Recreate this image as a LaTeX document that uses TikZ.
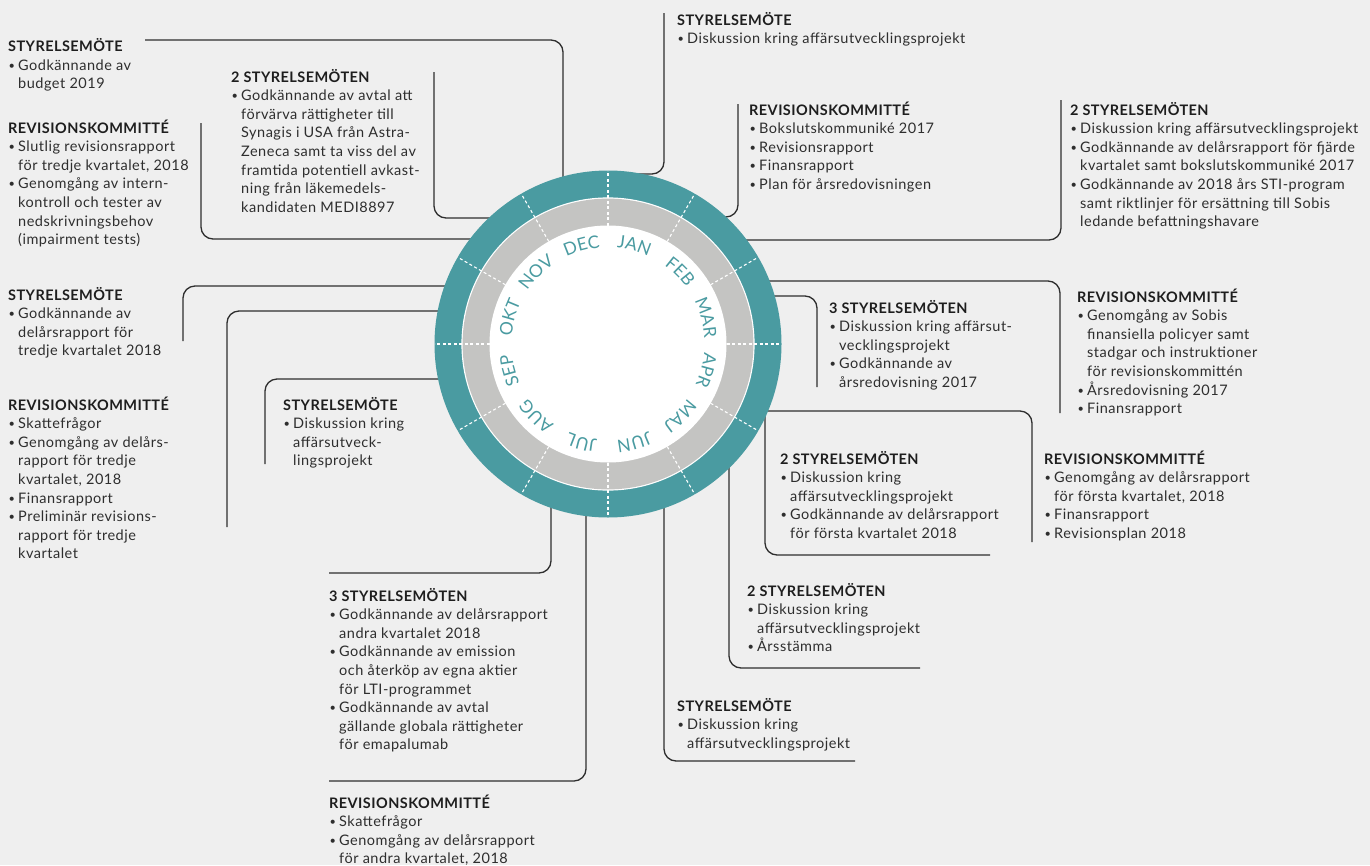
\documentclass[tikz,border=0pt]{standalone}
\usepackage{fontspec}
\setmainfont{Lato}[LetterSpace=3.5]
\newfontfamily\hdfont{Lato}[LetterSpace=3]
\newfontfamily\monthfont{Lato}[LetterSpace=8]
\usetikzlibrary{decorations.text}
\definecolor{bg}{HTML}{EFEFEF}
\definecolor{teal1}{HTML}{4A9BA1}
\definecolor{ring}{HTML}{C4C4C2}
\definecolor{ln}{HTML}{2E2E2E}
\definecolor{txt}{HTML}{2E2E2E}
\definecolor{hdc}{HTML}{1E1E1E}
\newcommand{\hd}[1]{{\hdfont\bfseries\color{hdc}#1}}
\newcommand{\bl}{\makebox[10pt][l]{\hspace{0.5pt}\raisebox{1pt}{\fontsize{11}{11}\selectfont •}}}
\newcommand{\ind}{\hspace*{10pt}}
\newcommand{\grptext}[1]{\parbox[t]{330pt}{\raggedright\leavevmode #1}}
\newcommand{\mfont}{\monthfont\fontsize{17.5}{19}\selectfont}
\newcommand{\mon}[2]{\path[decorate,decoration={text along path,text align=center,text={|\mfont\color{teal1}|#2}}] ({#1+40}:96.5) arc[start angle={#1+40},end angle={#1-40},radius=96.5];}
\tikzset{
  grp/.style={anchor=base west, inner sep=0pt, text=txt, font=\fontsize{14.5}{18.6}\selectfont},
  conn/.style={draw=ln, line width=1.3pt, rounded corners=12pt},
  tick/.style={white, line width=1.1pt, dash pattern=on 3pt off 2.5pt},
}
\begin{document}
\begin{tikzpicture}[x=1pt,y=-1pt]
\useasboundingbox[fill=bg] (0,0) rectangle (1370,865);
\coordinate (cc) at (608,344);
% connectors
\coordinate (s1) at (145,40);   \coordinate (k1) at (563,40);
\coordinate (s2) at (434,72);   \coordinate (k2) at (434,218);
\coordinate (s3) at (201,123);  \coordinate (k3) at (201,239);
\coordinate (s4) at (664,13);   \coordinate (k4) at (664,174);
\coordinate (s5) at (738,104);  \coordinate (k5) at (738,217);
\coordinate (s6) at (1061,100); \coordinate (k6) at (1061,240);
\coordinate (s7) at (1060,413); \coordinate (k7) at (1060,281);
\coordinate (s8) at (817,387);  \coordinate (k8) at (817,296);
\coordinate (s9) at (1032,542); \coordinate (k9) at (1032,411);
\coordinate (s10) at (990,555); \coordinate (k10) at (765,555);
\coordinate (s11) at (920,668); \coordinate (k11) at (729,668);
\coordinate (s12) at (855,761); \coordinate (k12) at (664,761);
\coordinate (s13) at (329,781); \coordinate (k13) at (586,781);
\coordinate (s14) at (329,573); \coordinate (k14) at (551,573);
\coordinate (s15) at (265,464); \coordinate (k15) at (265,379);
\coordinate (s16) at (227,527); \coordinate (k16) at (227,311);
\coordinate (s17) at (183,341); \coordinate (k17) at (183,286);
\draw[conn] (s1) -- (k1) -- (k1 |- cc);
\draw[conn] (s2) -- (k2) -- (k2 -| cc);
\draw[conn] (s3) -- (k3) -- (k3 -| cc);
\draw[conn] (s4) -- (k4) -- (k4 -| cc);
\draw[conn] (s5) -- (k5) -- (k5 -| cc);
\draw[conn] (s6) -- (k6) -- (k6 -| cc);
\draw[conn] (s7) -- (k7) -- (k7 -| cc);
\draw[conn] (s8) -- (k8) -- (k8 -| cc);
\draw[conn] (s9) -- (k9) -- (k9 -| cc);
\draw[conn] (s10) -- (k10) -- (k10 |- cc);
\draw[conn] (s11) -- (k11) -- (k11 |- cc);
\draw[conn] (s12) -- (k12) -- (k12 |- cc);
\draw[conn] (s13) -- (k13) -- (k13 |- cc);
\draw[conn] (s14) -- (k14) -- (k14 |- cc);
\draw[conn] (s15) -- (k15) -- (k15 -| cc);
\draw[conn] (s16) -- (k16) -- (k16 -| cc);
\draw[conn] (s17) -- (k17) -- (k17 -| cc);
% wheel
\begin{scope}[shift={(cc)}, y=1pt]
\fill[teal1] (0,0) circle[radius=173.5];
\fill[white] (0,0) circle[radius=146.6];
\fill[ring] (0,0) circle[radius=145.4];
\fill[white] (0,0) circle[radius=118.5];
\foreach \a in {0,30,...,330} \draw[tick] (\a:118.5) -- (\a:173.5);
\mon{75}{JAN}
\mon{45}{FEB}
\mon{15}{MAR}
\mon{-15}{APR}
\mon{-45}{MAJ}
\mon{-75}{JUN}
\mon{-105}{JUL}
\mon{-135}{AUG}
\mon{-165}{SEP}
\mon{165}{OKT}
\mon{135}{NOV}
\mon{105}{DEC}
\end{scope}
% text groups
\node[grp] (g1) at (8,51.5) {\grptext{\hd{STYRELSEMÖTE}\\ \bl Godkännande av\\ \ind budget 2019}};
\node[grp] (g2) at (8,133) {\grptext{\hd{REVISIONSKOMMITTÉ}\\ \bl Slutlig revisionsrapport\\ \ind för tredje kvartalet, 2018\\ \bl Genomgång av intern-\\ \ind kontroll och tester av\\ \ind nedskrivningsbehov\\ \ind (impairment tests)}};
\node[grp] (g3) at (231,82) {\grptext{\hd{2 STYRELSEMÖTEN}\\ \bl Godkännande av avtal att\\ \ind förvärva rättigheter till\\ \ind Synagis i USA från Astra-\\ \ind Zeneca samt ta viss del av\\ \ind framtida potentiell avkast-\\ \ind ning från läkemedels-\\ \ind kandidaten MEDI8897}};
\node[grp] (g4) at (677,25) {\grptext{\hd{STYRELSEMÖTE}\\ \bl Diskussion kring affärsutvecklingsprojekt}};
\node[grp] (g5) at (749,115) {\grptext{\hd{REVISIONSKOMMITTÉ}\\ \bl Bokslutskommuniké 2017\\ \bl Revisionsrapport\\ \bl Finansrapport\\ \bl Plan för årsredovisningen}};
\node[grp] (g6) at (1070,115) {\grptext{\hd{2 STYRELSEMÖTEN}\\ \bl Diskussion kring affärsutvecklingsprojekt\\ \bl Godkännande av delårsrapport för fjärde\\ \ind kvartalet samt bokslutskommuniké 2017\\ \bl Godkännande av 2018 års STI-program\\ \ind samt riktlinjer för ersättning till Sobis\\ \ind ledande befattningshavare}};
\node[grp] (g7) at (829,313) {\grptext{\hd{3 STYRELSEMÖTEN}\\ \bl Diskussion kring affärsut-\\ \ind vecklingsprojekt\\ \bl Godkännande av\\ \ind årsredovisning 2017}};
\node[grp] (g8) at (1077,302) {\grptext{\hd{REVISIONSKOMMITTÉ}\\ \bl Genomgång av Sobis\\ \ind finansiella policyer samt\\ \ind stadgar och instruktioner\\ \ind för revisionskommittén\\ \bl Årsredovisning 2017\\ \bl Finansrapport}};
\node[grp] (g9) at (780,464) {\grptext{\hd{2 STYRELSEMÖTEN}\\ \bl Diskussion kring\\ \ind affärsutvecklingsprojekt\\ \bl Godkännande av delårsrapport\\ \ind för första kvartalet 2018}};
\node[grp] (g10) at (1044,464) {\grptext{\hd{REVISIONSKOMMITTÉ}\\ \bl Genomgång av delårsrapport\\ \ind för första kvartalet, 2018\\ \bl Finansrapport\\ \bl Revisionsplan 2018}};
\node[grp] (g11) at (747,596) {\grptext{\hd{2 STYRELSEMÖTEN}\\ \bl Diskussion kring\\ \ind affärsutvecklingsprojekt\\ \bl Årsstämma}};
\node[grp] (g12) at (677,711) {\grptext{\hd{STYRELSEMÖTE}\\ \bl Diskussion kring\\ \ind affärsutvecklingsprojekt}};
\node[grp] (g13) at (329,601) {\grptext{\hd{3 STYRELSEMÖTEN}\\ \bl Godkännande av delårsrapport\\ \ind andra kvartalet 2018\\ \bl Godkännande av emission\\ \ind och återköp av egna aktier\\ \ind för LTI-programmet\\ \bl Godkännande av avtal\\ \ind gällande globala rättigheter\\ \ind för emapalumab}};
\node[grp] (g14) at (329,808) {\grptext{\hd{REVISIONSKOMMITTÉ}\\ \bl Skattefrågor\\ \bl Genomgång av delårsrapport\\ \ind för andra kvartalet, 2018}};
\node[grp] (g15) at (8,300) {\grptext{\hd{STYRELSEMÖTE}\\ \bl Godkännande av\\ \ind delårsrapport för\\ \ind tredje kvartalet 2018}};
\node[grp] (g16) at (8,410) {\grptext{\hd{REVISIONSKOMMITTÉ}\\ \bl Skattefrågor\\ \bl Genomgång av delårs-\\ \ind rapport för tredje\\ \ind kvartalet, 2018\\ \bl Finansrapport\\ \bl Preliminär revisions-\\ \ind rapport för tredje\\ \ind kvartalet}};
\node[grp] (g17) at (283,410) {\grptext{\hd{STYRELSEMÖTE}\\ \bl Diskussion kring\\ \ind affärsutveck-\\ \ind lingsprojekt}};
\end{tikzpicture}
\end{document}
